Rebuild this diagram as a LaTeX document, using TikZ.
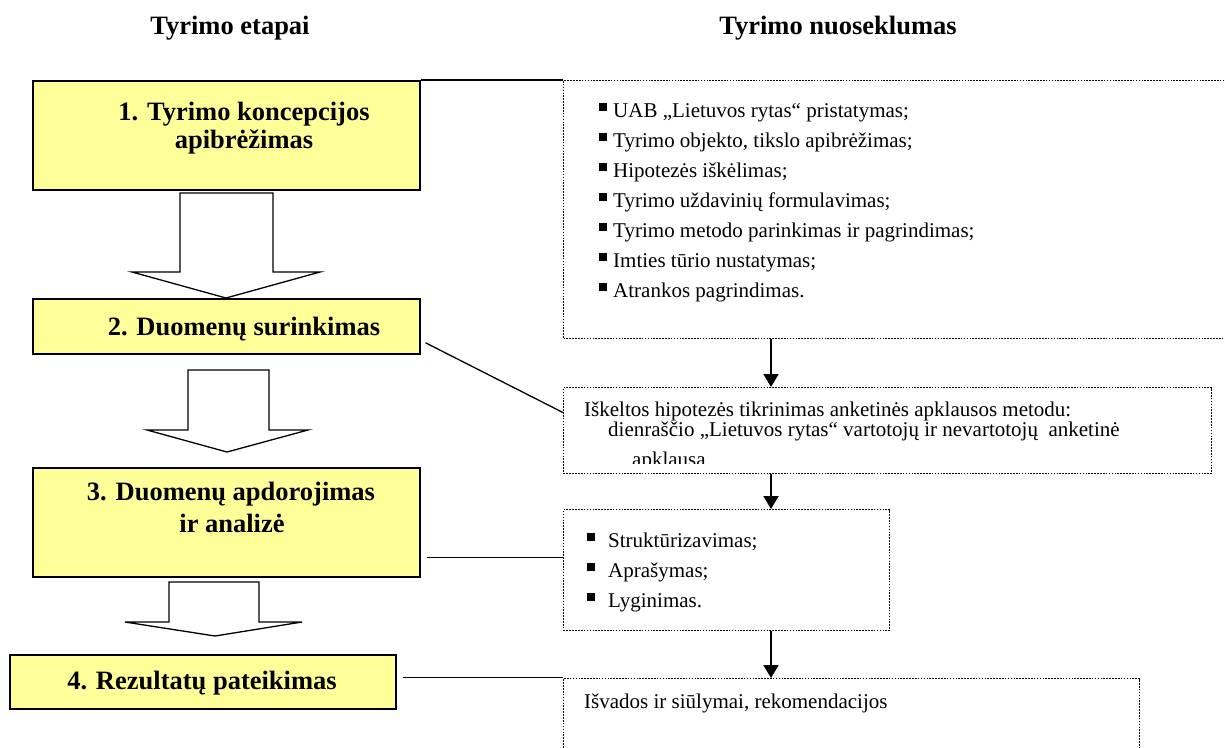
\documentclass[tikz,border=0pt]{standalone}
\usepackage{fontspec}
\setmainfont{Liberation Serif}
\usetikzlibrary{arrows.meta,calc}
\definecolor{boxyellow}{HTML}{FFFF99}
\begin{document}
\begin{tikzpicture}[x=1pt,y=-1pt,
  stagebox/.style={draw=black,line width=1.5pt,fill=boxyellow,inner sep=0pt,anchor=north west},
  infobox/.style={draw=black,line width=1.1pt,dash pattern=on 1.6pt off 1.3pt,inner sep=0pt,anchor=north west},
  title/.style={font=\fontsize{26.5}{30}\selectfont\bfseries,inner sep=0pt,anchor=base},
  body/.style={font=\fontsize{21}{24}\selectfont,inner sep=0pt,anchor=base west},
  bullet/.style={fill=black,inner sep=0pt,minimum size=8pt},
  blockarrow/.style={draw=black,line width=1.3pt,fill=white,line join=miter},
  link/.style={draw=black,line width=1.3pt},
  flow/.style={draw=black,line width=2pt,-{Triangle[length=13pt,width=15pt]}}
]
\clip (0,0) rectangle (1225,747);
\fill[white] (0,0) rectangle (1225,747);

% headers
\node[title] (h1) at (230,34) {Tyrimo etapai};
\node[title] (h2) at (838,34) {Tyrimo nuoseklumas};

% stage boxes
\node[stagebox,minimum width=387pt,minimum height=109pt] (b1) at (32,80) {};
\node[stagebox,minimum width=387pt,minimum height=55pt] (b2) at (32,298) {};
\node[stagebox,minimum width=387pt,minimum height=109pt] (b3) at (32,467) {};
\node[stagebox,minimum width=386pt,minimum height=54pt] (b4) at (9,654) {};

\node[title] (t1a) at (244,120) {1. Tyrimo koncepcijos};
\node[title] (t1b) at (244,148) {apibrėžimas};
\node[title] (t2) at (244,335) {2. Duomenų surinkimas};
\node[title] (t3a) at (231,500) {3. Duomenų apdorojimas};
\node[title] (t3b) at (232,532) {ir analizė};
\node[title] (t4) at (202,689) {4. Rezultatų pateikimas};

% block arrows
\draw[blockarrow] (180,193) -- (273,193) -- (273,272) -- (320,272) -- (226,298) -- (132,272) -- (180,272) -- cycle;
\draw[blockarrow] (188,370) -- (269,370) -- (269,430) -- (308,430) -- (227,452) -- (147,430) -- (188,430) -- cycle;
\draw[blockarrow] (169,582) -- (259,582) -- (259,622) -- (302,622) -- (215,636) -- (125,622) -- (169,622) -- cycle;

% info boxes
\node[infobox,minimum width=677pt,minimum height=258pt] (r1) at (563,80) {};
\node[infobox,minimum width=648pt,minimum height=86pt] (r2) at (563,387) {};
\node[infobox,minimum width=326pt,minimum height=121pt] (r3) at (563,509) {};
\node[infobox,minimum width=576pt,minimum height=100pt] (r4) at (563,678) {};

% box r1 bullets
\foreach \i/\t in {0/{UAB „Lietuvos rytas“ pristatymas;},
                   1/{Tyrimo objekto, tikslo apibrėžimas;},
                   2/{Hipotezės iškėlimas;},
                   3/{Tyrimo uždavinių formulavimas;},
                   4/{Tyrimo metodo parinkimas ir pagrindimas;},
                   5/{Imties tūrio nustatymas;},
                   6/{Atrankos pagrindimas.}}{
  \node[bullet] (rb\i) at (603,{117+30*\i-10}) {};
  \node[body] (rt\i) at (613,{117+30*\i}) {\t};
}

% box r2 text (clipped)
\begin{scope}
\clip (563,387) rectangle (1211,463);
\node[body] (s1) at (584,416) {Iškeltos hipotezės tikrinimas anketinės apklausos metodu:};
\node[body] (s2) at (608,436) {dienraščio „Lietuvos rytas“ vartotojų ir nevartotojų\ \ anketinė};
\node[body] (s3) at (632,466) {apklausa};
\end{scope}

% box r3 bullets
\foreach \i/\t in {0/{Struktūrizavimas;},1/{Aprašymas;},2/{Lyginimas.}}{
  \node[bullet] (qb\i) at (591,{547+30*\i-10}) {};
  \node[body] (qt\i) at (608,{547+30*\i}) {\t};
}

% box r4 text
\node[body] (v1) at (584,708) {Išvados ir siūlymai, rekomendacijos};

% connectors
\draw[link] (b1.north east) -- (r1.north west);
\draw[link] ([xshift=5pt,yshift=-16.5pt]b2.east) -- ([yshift=18pt]r2.west);
\draw[link] ([xshift=6pt,yshift=-35.5pt]b3.east) -- ([yshift=-35.5pt]b3.east -| r3.west);
\draw[link] ([xshift=6pt,yshift=4pt]b4.east) -- ([yshift=4pt]b4.east -| r4.west);

\coordinate (fx) at (771,0);
\draw[flow] (r1.south -| fx) -- (r2.north -| fx);
\draw[flow] (r2.south -| fx) -- (r3.north -| fx);
\draw[flow] (r3.south -| fx) -- (r4.north -| fx);
\end{tikzpicture}
\end{document}
